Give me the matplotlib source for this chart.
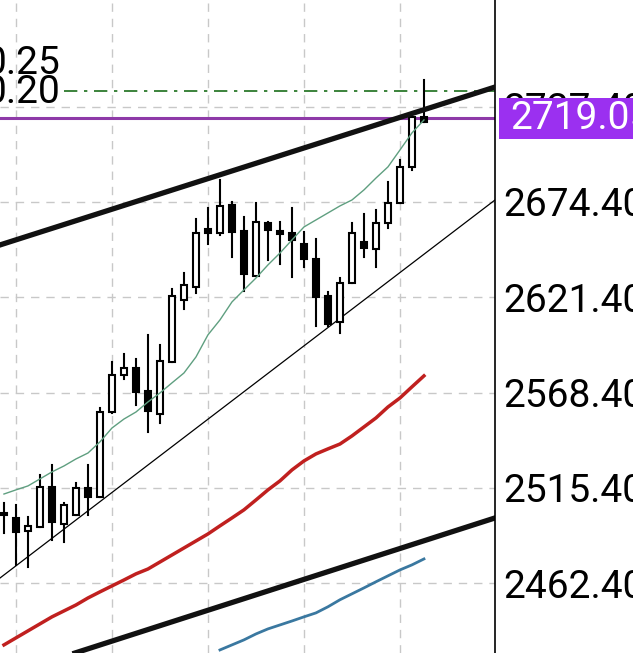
import matplotlib
matplotlib.use("Agg")
import matplotlib.pyplot as plt
from matplotlib.patches import Rectangle

opens  = [2501.5,2498.7,2491.5,2493.7,2515.9,2495.4,2500.4,2515.4,2510.4,2557.6,2578.2,2582.1,2569.3,2556.5,2585.4,2619.9,2627.1,2659.4,2657.2,2672.7,2658.3,2633.3,2662.7,2658.3,2657.2,2651.0,2642.7,2622.1,2607.7,2629.4,2652.2,2648.3,2662.7,2673.8,2693.9,2721.7]
highs  = [2507.0,2505.9,2499.3,2522.6,2528.2,2507.0,2518.2,2528.2,2559.9,2585.4,2589.9,2587.1,2600.5,2594.9,2626.0,2634.9,2664.9,2671.1,2686.6,2674.4,2666.1,2673.8,2663.3,2663.3,2671.1,2657.7,2653.8,2624.4,2632.1,2662.7,2667.7,2670.0,2685.5,2697.8,2722.8,2742.2]
lows   = [2490.4,2472.6,2471.5,2493.7,2486.5,2485.4,2500.4,2500.4,2510.4,2557.1,2576.0,2561.5,2546.5,2551.5,2585.4,2614.9,2623.8,2651.0,2656.1,2643.8,2624.9,2633.3,2642.2,2639.9,2632.7,2638.3,2605.5,2605.5,2601.6,2629.4,2643.8,2638.3,2659.9,2673.8,2692.2,2718.9]
closes = [2500.4,2490.9,2494.3,2515.9,2496.5,2505.9,2515.4,2510.4,2557.6,2578.2,2582.1,2568.8,2558.2,2586.0,2622.1,2628.3,2657.2,2657.2,2672.2,2657.7,2634.4,2663.3,2658.8,2656.6,2653.3,2642.7,2621.6,2606.6,2629.4,2657.2,2648.8,2662.7,2673.8,2693.9,2721.7,2719.05]

ma_green = [2512.0,2514.3,2516.5,2520.4,2524.3,2527.6,2531.5,2534.8,2541.0,2548.7,2553.7,2557.6,2563.2,2568.2,2573.8,2579.3,2588.2,2600.5,2608.8,2618.8,2625.5,2632.1,2639.4,2646.0,2653.3,2660.5,2664.4,2668.3,2672.2,2675.5,2681.1,2687.7,2693.9,2703.3,2712.8,2720.0]
ma_red = [2428.1,2432.0,2435.9,2439.8,2443.7,2447.0,2450.3,2454.2,2457.6,2460.9,2464.2,2467.6,2470.3,2474.2,2478.1,2482.0,2485.9,2489.8,2494.3,2498.7,2503.2,2508.7,2514.3,2519.3,2525.4,2530.4,2534.3,2537.1,2539.8,2544.3,2549.3,2554.3,2560.4,2565.4,2571.6,2577.7]
blue_start = 18
ma_blue = [2425.3,2428.1,2430.9,2434.2,2437.0,2439.2,2441.4,2443.7,2445.9,2449.3,2453.2,2456.5,2459.8,2463.2,2466.5,2469.8,2472.6,2475.9]

upper_line = ([-0.33, 40.92], [2650.5, 2738.3])
mid_line = ([-0.33, 40.92], [2465.3, 2675.5])
lower_line = ([5.92, 40.92], [2423.6, 2498.7])

yticks = [2462.40, 2515.40, 2568.40, 2621.40, 2674.40, 2727.40]
last_price = 2719.05
fib_level = 2736.1
fib_labels = ["0.25", "0.20"]

fig = plt.figure(figsize=(6.33, 6.53), dpi=100)
ax = fig.add_axes([0, 0, 495/633, 1])
ax.set_xlim(-0.33, 40.92)
ax.set_ylim(2423.6, 2786.7)

for y in yticks:
    ax.axhline(y, color="#c8c8c8", lw=1, ls=(0, (6, 5)), zorder=0)
for x in [1, 9, 17, 25, 33]:
    ax.axvline(x, color="#c8c8c8", lw=1, ls=(0, (6, 5)), zorder=0)

w = 0.5
for i, (o, h, l, c) in enumerate(zip(opens, highs, lows, closes)):
    ax.plot([i, i], [l, h], color="black", lw=1.5, zorder=3)
    bull = c >= o
    ax.add_patch(Rectangle((i - w/2, min(o, c)), w, max(abs(c - o), 0.6),
                           facecolor="white" if bull else "black",
                           edgecolor="black", lw=1.5, zorder=4))

idx = list(range(len(closes)))
ax.plot(idx, ma_green, color="#5f9f80", lw=1, zorder=5)
ax.plot(idx, ma_red, color="#c0201f", lw=2.5, zorder=2)
ax.plot(list(range(blue_start, blue_start + len(ma_blue))), ma_blue, color="#3a78a0", lw=2, zorder=2)
ax.plot(*upper_line, color="#111111", lw=3.8, zorder=6)
ax.plot(*mid_line, color="black", lw=0.9, zorder=2)
ax.plot(*lower_line, color="#111111", lw=3.8, zorder=2)

ax.axhline(last_price + 1.8, color="#8e3aa8", lw=2.2, zorder=2)
ax.plot([5.0, 40.92], [fib_level, fib_level], color="#1a6e1a", lw=1.2, ls=(0, (8, 4, 2, 4)), zorder=2)
ax.text(-1.6, fib_level - 1.0, fib_labels[1], fontsize=28, family="Roboto", va="center", ha="left")
ax.text(-1.6, fib_level + 15.5, fib_labels[0], fontsize=28, family="Roboto", va="center", ha="left")

for s in ["top", "left", "bottom"]:
    ax.spines[s].set_visible(False)
ax.spines["right"].set_linewidth(1.2)
ax.set_xticks([])
ax.yaxis.tick_right()
ax.set_yticks(yticks)
ax.set_yticklabels([f"{v:.2f}" for v in yticks], fontsize=28, family="Roboto")
ax.tick_params(axis="y", length=0, pad=6)

ax.add_patch(Rectangle((1.008, (2719.05 + 1.8 - 11.5 - 2423.6) / (2786.7 - 2423.6)), 0.4, 23 / (2786.7 - 2423.6),
                       transform=ax.transAxes, facecolor="#9b30f0", edgecolor="none", clip_on=False, zorder=10))
ax.text(1.03, (last_price + 1.8 - 2423.6) / (2786.7 - 2423.6), f"{last_price:.2f}", transform=ax.transAxes,
        fontsize=28, family="Roboto", color="white", va="center", ha="left", zorder=11, clip_on=False)

fig.savefig("out.png", dpi=100)
